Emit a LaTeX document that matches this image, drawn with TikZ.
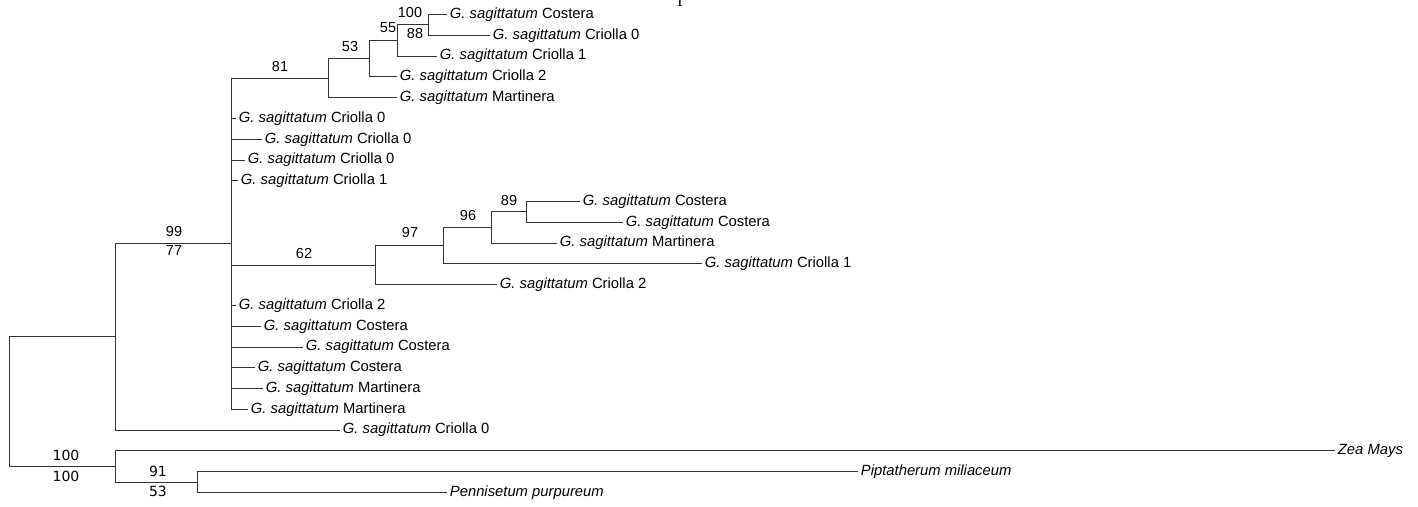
\documentclass[tikz,border=0pt]{standalone}
\usepackage{fontspec}
\newfontfamily\treefont{Liberation Sans}
\newfontfamily\bootfont{DejaVu Sans}

\begin{document}
\begin{tikzpicture}[x=1pt, y=-1pt, line width=0.85pt,
    leaf/.style={anchor=west, inner xsep=2.5pt, inner ysep=0pt, font=\fontsize{14.8}{16}\selectfont\treefont},
    boot/.style={inner sep=0pt, font=\fontsize{14.5}{16}\selectfont\treefont},
    bootb/.style={inner sep=0pt, font=\fontsize{14}{16}\selectfont\bootfont},
    branch/.style={draw=black!80}]
        \useasboundingbox (0,0) rectangle (1418,506);
        \node [anchor=base, inner sep=0pt, font=\fontsize{22}{24}\selectfont] (cut) at (680,6) {I};
        % internal nodes
        \coordinate (root) at (9,401.7);
        \coordinate (ning) at (115,336.9);
        \coordinate (nout) at (115,466.5);
        \coordinate (n91) at (197,482.05);
        \coordinate (npoly) at (231,243.7);
        \coordinate (n81) at (328,78.1);
        \coordinate (n53) at (369,58.65);
        \coordinate (n55) at (397,40.5);
        \coordinate (n100) at (428,24.9);
        \coordinate (n62) at (375,265.15);
        \coordinate (n97) at (443,245.7);
        \coordinate (n96) at (491,227.5);
        \coordinate (n89) at (526,211.9);
        % leaves
        \node [leaf] (c1) at (447,14.5) {\textit{G. sagittatum} Costera};
        \node [leaf] (c2) at (490,35.3) {\textit{G. sagittatum} Criolla 0};
        \node [leaf] (c3) at (437,56.1) {\textit{G. sagittatum} Criolla 1};
        \node [leaf] (c4) at (397,76.8) {\textit{G. sagittatum} Criolla 2};
        \node [leaf] (c5) at (397,97.6) {\textit{G. sagittatum} Martinera};
        \node [leaf] (c6) at (236,118.4) {\textit{G. sagittatum} Criolla 0};
        \node [leaf] (c7) at (262,139.2) {\textit{G. sagittatum} Criolla 0};
        \node [leaf] (c8) at (245,160.0) {\textit{G. sagittatum} Criolla 0};
        \node [leaf] (c9) at (238,180.7) {\textit{G. sagittatum} Criolla 1};
        \node [leaf] (c10) at (580,201.5) {\textit{G. sagittatum} Costera};
        \node [leaf] (c11) at (623,222.3) {\textit{G. sagittatum} Costera};
        \node [leaf] (c12) at (557,243.1) {\textit{G. sagittatum} Martinera};
        \node [leaf] (c13) at (702,263.9) {\textit{G. sagittatum} Criolla 1};
        \node [leaf] (c14) at (497,284.6) {\textit{G. sagittatum} Criolla 2};
        \node [leaf] (c15) at (236,305.4) {\textit{G. sagittatum} Criolla 2};
        \node [leaf] (c16) at (261,326.2) {\textit{G. sagittatum} Costera};
        \node [leaf] (c17) at (303,347.0) {\textit{G. sagittatum} Costera};
        \node [leaf] (c18) at (255,367.8) {\textit{G. sagittatum} Costera};
        \node [leaf] (c19) at (263,388.5) {\textit{G. sagittatum} Martinera};
        \node [leaf] (c20) at (248,409.3) {\textit{G. sagittatum} Martinera};
        \node [leaf] (c21) at (340,430.1) {\textit{G. sagittatum} Criolla 0};
        \node [leaf] (zea) at (1335,450.9) {\textit{Zea Mays}};
        \node [leaf] (pip) at (858,471.7) {\textit{Piptatherum miliaceum}};
        \node [leaf] (pen) at (447,492.4) {\textit{Pennisetum purpureum}};
        % branches
        \draw [branch] (root) |- (ning) (root) |- (nout);
        \draw [branch] (ning) |- (npoly) (ning) |- (c21.west);
        \draw [branch] (nout) |- (zea.west) (nout) |- (n91);
        \draw [branch] (n91) |- (pip.west) (n91) |- (pen.west);
        \foreach \c in {n81,c6,c7,c8,c9,n62,c15,c16,c17,c18,c19,c20}
            \draw [branch] (npoly) |- (\c.west);
        \draw [branch] (n81) |- (n53) (n81) |- (c5.west);
        \draw [branch] (n53) |- (n55) (n53) |- (c4.west);
        \draw [branch] (n55) |- (n100) (n55) |- (c3.west);
        \draw [branch] (n100) |- (c1.west) (n100) |- (c2.west);
        \draw [branch] (n62) |- (n97) (n62) |- (c14.west);
        \draw [branch] (n97) |- (n96) (n97) |- (c13.west);
        \draw [branch] (n96) |- (n89) (n96) |- (c12.west);
        \draw [branch] (n89) |- (c10.west) (n89) |- (c11.west);
        % support values
        \node [boot] (b100) at (410,13) {100};
        \node [boot] (b88) at (415,34) {88};
        \node [boot] (b55) at (388,28) {55};
        \node [boot] (b53) at (350,47) {53};
        \node [boot] (b81) at (280,67) {81};
        \node [boot] (b99) at (174,232) {99};
        \node [boot] (b77) at (174,251) {77};
        \node [boot] (b62) at (304,254) {62};
        \node [boot] (b97) at (410,233) {97};
        \node [boot] (b96) at (468,216) {96};
        \node [boot] (b89) at (509,201) {89};
        \node [bootb] (bo1) at (66,455) {100};
        \node [bootb] (bo2) at (66,476) {100};
        \node [bootb] (bp1) at (158,471) {91};
        \node [bootb] (bp2) at (158,491) {53};
\end{tikzpicture}
\end{document}
